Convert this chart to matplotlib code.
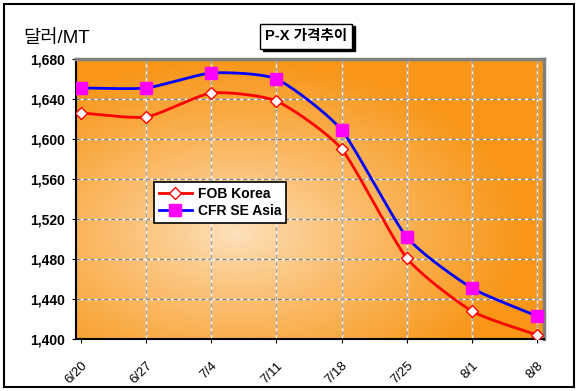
import matplotlib
matplotlib.use('Agg')
import matplotlib.pyplot as plt
import matplotlib.patches as patches
from matplotlib.ticker import FuncFormatter
import numpy as np

plt.rcParams['font.family'] = ['Liberation Sans', 'Noto Sans CJK KR', 'DejaVu Sans']

# Data
dates = ['6/20', '6/27', '7/4', '7/11', '7/18', '7/25', '8/1', '8/8']
fob_korea = [1626, 1622, 1646, 1638, 1590, 1481, 1428, 1404]
cfr_se_asia = [1651, 1651, 1666, 1660, 1609, 1502, 1451, 1423]


def smooth(xs, ys, n=20, k=0.3):
    # cardinal spline smoothing (like Excel's smoothed lines), k = tangent scale
    xs = np.asarray(xs, float)
    ys = np.asarray(ys, float)
    px = np.concatenate([[2 * xs[0] - xs[1]], xs, [2 * xs[-1] - xs[-2]]])
    py = np.concatenate([[2 * ys[0] - ys[1]], ys, [2 * ys[-1] - ys[-2]]])
    t = np.linspace(0, 1, n, endpoint=False)
    h00 = 2 * t ** 3 - 3 * t ** 2 + 1
    h10 = t ** 3 - 2 * t ** 2 + t
    h01 = -2 * t ** 3 + 3 * t ** 2
    h11 = t ** 3 - t ** 2
    outx, outy = [], []
    for i in range(1, len(px) - 2):
        for p, out in ((px, outx), (py, outy)):
            m1 = k * (p[i + 1] - p[i - 1])
            m2 = k * (p[i + 2] - p[i])
            out.extend(h00 * p[i] + h10 * m1 + h01 * p[i + 1] + h11 * m2)
    outx.append(xs[-1])
    outy.append(ys[-1])
    return outx, outy


fig = plt.figure(figsize=(5.79, 3.91), dpi=100)
ax = fig.add_axes([76 / 579, 1 - 339 / 391, 468 / 579, 280 / 391])

x = np.arange(len(dates))
ax.set_xlim(-0.08, len(dates) - 1 + 0.11)
ax.set_ylim(1400, 1680)

# radial orange background
gx, gy = np.meshgrid(np.linspace(0, 1, 300), np.linspace(0, 1, 200))
r = np.sqrt(((gx - 0.34) / 0.62) ** 2 + ((gy - 0.38) / 0.62) ** 2)
r = np.clip(r, 0, 1) ** 0.85
light = np.array([253, 226, 190]) / 255
dark = np.array([248, 150, 24]) / 255
img = light[None, None, :] * (1 - r[..., None]) + dark[None, None, :] * r[..., None]
ax.imshow(img, extent=[0, 1, 0, 1], transform=ax.transAxes, origin='lower',
          aspect='auto', zorder=0)

# grid
yticks = np.arange(1400, 1681, 40)
for yv in yticks[1:-1]:
    ax.axhline(yv, color='white', lw=1, zorder=1)
    ax.axhline(yv, color='#808080', lw=1, ls=(0, (3, 2)), zorder=1)
for xv in x[1:]:
    ax.axvline(xv, color='white', lw=1, zorder=1)
    ax.axvline(xv, color='#a0a0a0', lw=1, ls=(2, (3, 2)), zorder=1)

sx, sy = smooth(x, fob_korea)
ax.plot(sx, sy, color='red', lw=2, zorder=3)
ax.plot(x, fob_korea, ls='none', marker='D', ms=6, mfc='white', mec='red', mew=1,
        zorder=4)
sx, sy = smooth(x, cfr_se_asia)
ax.plot(sx, sy, color='blue', lw=2, zorder=3)
ax.plot(x, cfr_se_asia, ls='none', marker='s', ms=9, mfc='#ff00ff', mec='#ff00ff',
        zorder=4)

ax.set_yticks(yticks)
ax.yaxis.set_major_formatter(FuncFormatter(lambda v, p: f'{int(v):,}'))
ax.set_xticks(x)
ax.set_xticklabels(dates, rotation=45, ha='right', rotation_mode='anchor')
ax.tick_params(axis='y', labelsize=10, length=3, pad=5)
ax.tick_params(axis='x', labelsize=9.5, length=3, pad=12)
for lbl in ax.get_yticklabels():
    lbl.set_fontweight('bold')

for s in ('left', 'bottom'):
    ax.spines[s].set_color('black')
    ax.spines[s].set_linewidth(1.5)
for s in ('top', 'right'):
    ax.spines[s].set_color('#808080')
    ax.spines[s].set_linewidth(2.5)

# legend
h1 = plt.Line2D([], [], color='red', lw=2, marker='D', ms=6, mfc='white', mec='red')
h2 = plt.Line2D([], [], color='blue', lw=2, marker='s', ms=8, mfc='#ff00ff', mec='#ff00ff')
leg = ax.legend([h1, h2], ['FOB Korea', 'CFR SE Asia'], loc='upper left',
                bbox_to_anchor=((147 - 76) / 468, 1 - (175 - 59) / 280),
                fancybox=False, framealpha=1, edgecolor='black', handlelength=2.4,
                borderpad=0.35, labelspacing=0.25, handletextpad=0.4,
                prop={'weight': 'bold', 'size': 10})
leg.get_frame().set_linewidth(1.2)

# axis unit label
fig.text(23 / 579, 1 - 38 / 391, '달러/MT', fontsize=13.5, va='center', ha='left')

# title box with shadow
fig.patches.append(patches.Rectangle((263 / 579, 1 - 51 / 391), 92 / 579, 25 / 391,
                                     transform=fig.transFigure, fc='black', ec='black'))
fig.patches.append(patches.Rectangle((260 / 579, 1 - 48.5 / 391), 92 / 579, 24.5 / 391,
                                     transform=fig.transFigure, fc='white', ec='black',
                                     lw=1))
fig.text(306 / 579, 1 - 36 / 391, 'P-X 가격추이', fontsize=10.5, fontweight='bold',
         ha='center', va='center')

# outer border
fig.patches.append(patches.Rectangle((4 / 579, 4 / 391), 570 / 579, 383 / 391,
                                     transform=fig.transFigure, fill=False,
                                     ec='black', lw=1.5))

fig.savefig('out.png', dpi=100)
